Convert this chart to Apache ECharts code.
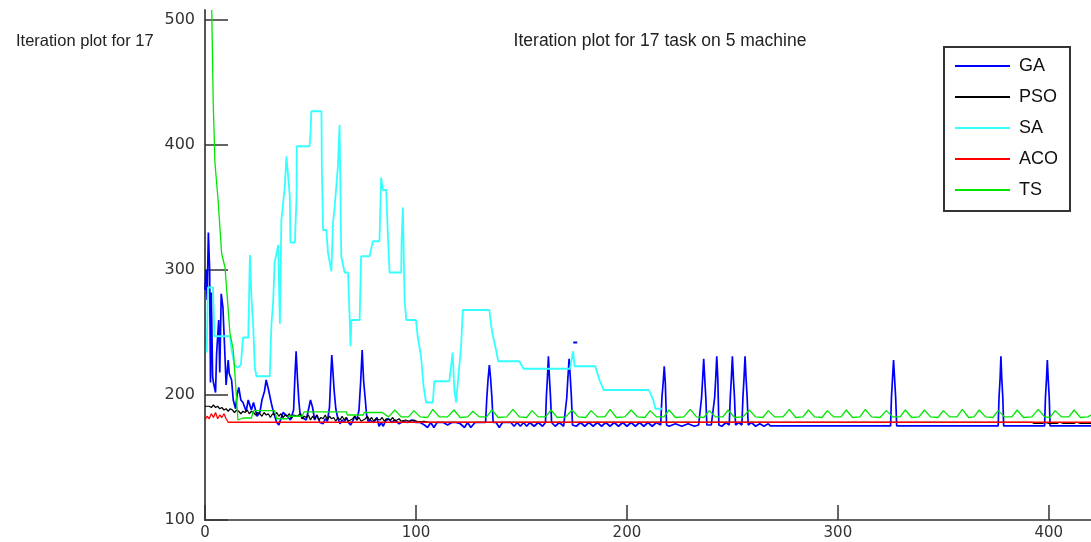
<!DOCTYPE html>
<html>
<head>
<meta charset="utf-8">
<title>Iteration plot</title>
<script src="https://cdn.jsdelivr.net/npm/echarts@6/dist/echarts.min.js"></script>
<style>
  html, body { margin: 0; padding: 0; background: #fff; }
  #chart { width: 1091px; height: 542px; }
</style>
</head>
<body>
<div id="chart"></div>
<script>
// tick labels
const xTicks = [0, 100, 200, 300, 400];
const yTicks = [100, 200, 300, 400, 500];
const seriesNames = ['GA', 'PSO', 'SA', 'ACO', 'TS'];
const titleText = 'Iteration plot for 17 task on 5 machine';

// GA (blue) - [iteration, makespan]
const gaData = [
  [0,284],[0.5,300],[1,276],[1.6,330],[2.2,300],[2.6,210],[3,282],[3.6,215],[4,210],[5,202],
  [5.5,233],[6.5,260],[7,218],[7.7,281],[8.5,270],[9.3,238],[10,208],[11,228],[11.5,217],[12.6,212],
  [13.4,196],[14.5,189],[15.2,200],[16,206],[17,196],[18,194],[19.5,187],[20.5,196],[22,188],[23,194],
  [24.7,183],[26,186],[27,196],[28.2,203],[29,212],[30,205],[31.5,193],[32.5,186],[34,178],[35,176],
  [36,181],[37,186],[39,183],[40.5,180],[42,188],[42.6,214],[43.2,235],[43.8,214],[44.5,195],[45,186],
  [46,182],[48,180],[49,188],[50,196],[51,190],[52,180],[53,184],[54.5,178],[56,177],[57,181],
  [58,179],[59,190],[59.6,214],[60.1,232],[60.6,220],[61.2,204],[62,189],[63,181],[64,177],[65,180],
  [66,178],[67,182],[68,178],[69,176],[70,179],[71,183],[72,180],[73,188],[73.8,211],[74.5,236],
  [75.2,211],[76,196],[76.6,184],[77.5,178],[78,180],[80,178],[81.5,182],[82.5,175],[83.5,178],[84.5,175],
  [85.5,179],[87,181],[88.5,178],[90,180],[92,177],[94,179],[96,178],[98,180],[100,178],[102,178],
  [104,176],[105.5,174],[107,178],[108.5,174],[110,178],[113,178],[115,176],[117,178],[119,178],[121,177],
  [123,174],[124.5,178],[126,174],[128,178],[131,178],[133,178],[133.6,198],[134.2,213],[134.8,224],[135.4,213],
  [136,198],[136.6,178],[138,178],[139.5,174],[141,178],[143,178],[145,178],[146.5,175],[148,178],[149.5,175],
  [151,178],[152.5,175],[154,178],[156,175],[158,178],[160,175],[161.4,178],[161.8,198],[162.3,213],[162.8,231],
  [163.3,213],[163.8,198],[164.3,178],[166,175],[168,178],[170,175],[171.5,198],[172,213],[172.6,229],[173.2,213],
  [173.7,198],[174.2,176],[176,175],[178,178],[180,175],[182,178],[184,175],[186,178],[188,175],[190,178],
  [192,175],[194,178],[196,175],[198,178],[200,175],[202,178],[204,175],[206,178],[208,175],[210,178],
  [212,175],[214,178],[216,176],[216.6,198],[217.2,210],[217.7,223],[218.2,210],[218.8,176],[220,175],[223,177],
  [226,175],[229,177],[232,175],[234,176],[235.4,198],[235.9,213],[236.4,229],[236.9,213],[237.4,198],[237.9,176],
  [240,176],[241.6,198],[242.1,213],[242.6,231],[243.1,213],[243.6,176],[245,175],[247,178],[248.5,176],[249,198],
  [249.5,213],[250,231],[250.5,213],[251,198],[251.5,176],[253,178],[254.5,176],[255,198],[255.5,213],[256,231],
  [256.5,213],[257,198],[257.5,176],[259,178],[261,175],[263,177],[265,175],[267,177],[268,175.3],[325,175.3],
  [325.4,198],[325.9,213],[326.4,228],[326.9,213],[327.4,198],[327.9,175.3],[376,175.3],[376.4,198],[376.9,213],[377.3,231],
  [377.7,213],[378.2,198],[378.6,175.3],[398,175.3],[398.4,198],[398.9,213],[399.3,228],[399.7,213],[400.2,198],[400.6,175.3],
  [420,175.3]
];
const gaDot = [175.5, 242];

// PSO (black)
const psoData = [
  [0,191],[2,191],[3,190],[4,192],[5,190],[6,191],[7,189],[8,190],[9,188],[10,189],
  [11,187],[12,189],[13,188],[14,186],[15,188],[16,187],[17,185],[18,187],[19,186],[20,188],
  [21,185],[22,187],[23,186],[24,184],[25,186],[26,185],[27,183],[28,186],[29,184],[30,185],
  [31,182],[32,185],[33,184],[34,186],[35,183],[36,185],[37,182],[38,184],[39,183],[40,185],
  [41,181],[42,184],[44,183],[45,185],[46,181],[47,183],[48,182],[49,184],[50,180],[51,183],
  [52,181],[53,184],[54,180],[55,182],[56,181],[57,184],[58,180],[59,183],[60,181],[61,182],
  [62,179],[63,182],[64,180],[65,183],[66,180],[67,182],[68,179],[70,181],[71,183],[72,180],
  [73,182],[74,179],[76,181],[77,183],[78,180],[79,182],[80,179],[81,181],[83,180],[84,182],
  [85,179],[86,181],[88,180],[89,182],[90,179],[92,181],[93,179],[95,180],[97,179],[99,180],
  [101,178.5],[104,179],[106,178.2],[392,178.2],[393,177.3],[397,177.3],[398,178.2],[400,177.3],[404,177.3],[405,178.2],
  [407,177.3],[412,177.3],[413,178.2],[415,177.3],[420,177.3]
];

// SA (cyan)
const saData = [
  [0.8,234],[1.4,286],[3.8,286],[4.5,247],[11.8,247],[12.6,236],[14,224],[15.5,222],[17,224],[18,246],
  [20.5,246],[21.3,312],[22,279],[22.9,254],[23.6,222],[24.4,215],[30.7,215],[31.5,257],[32.3,274],[33,306],
  [33.9,306],[34.7,320],[35.5,257],[36.2,340],[37,340],[37.8,366],[38.6,391],[39.4,391],[40.2,359],[40.5,322],
  [42.6,322],[43.4,359],[43.5,399],[49.6,399],[50.1,412],[50.4,427],[55.2,427],[55.4,380],[56,332],[57.5,332],
  [58.3,314],[59.9,299],[60.7,338],[61.5,351],[62.3,351],[63,383],[63.8,416],[64.6,311],[66.2,298],[67.8,298],
  [68.6,260],[69,239],[69.4,260],[73.3,260],[74,311],[78,311],[79.6,323],[82.7,323],[83.5,374],[84.3,364],
  [85.9,364],[86.7,327],[87.5,298],[93,298],[93.2,324],[93.8,350],[94.6,276],[95.4,260],[100,260],[100.8,247],
  [101.6,247],[102.4,231],[103.2,231],[103.6,207],[104.8,194],[108,194],[108.7,211],[115.8,211],[117.4,234],[118.2,204],
  [119,194],[119.8,194],[121.4,239],[122.2,268],[134.8,268],[135.6,256],[136.5,247],[138,236],[139,227],[149,227],
  [151,221],[173,221],[174.5,235],[175.2,223],[185,223],[187,212],[189,204],[210.4,204],[212.5,196],[213.5,189],
  [216.7,189]
];

// ACO (red)
const acoData = [
  [0,180],[1,183],[2,181],[3,185],[4,182],[5,186],[6,181],[7,184],[8,182],[9,185],
  [10,181],[11,178.2],[420,178.2]
];

// TS (green)
const tsData = [
  [3.2,508],[3.9,434],[4.7,386],[6.2,356],[7.9,313],[9.5,302],[11.8,250],[13.4,236],[15,196],[15.6,180],
  [18,181.6],[22,181.6],[23,187.5],[33,187.5],[34,181],[39,181],[39.5,183],[46,183],[47,186.5],[67,186.5],
  [67.5,184],[75,184],[75.5,186],[84,186],[87,182.5],
  [90,188],[93,182.5],[96.5,182.5],[99,187.5],[102,182.5],[105.5,182],[108,188.5],[111,182.5],[115,182.5],
  [118,188],[121,182],[124.5,182.5],[127,187],[130,182.5],[133.5,182.5],[136,188],[139,182],[143,182.5],
  [146,188.5],[149,182.5],[152.5,182],[155,187.5],[158,182.5],[161.5,182.5],[164,188],[167,182],[171,182.5],
  [174,188],[177,182.5],[180.5,182],[183,187.5],[186,182.5],[189.5,182.5],[192,188.5],[195,182],[199,182.5],
  [202,188],[205,182.5],[208.5,182],[211,187.5],[214,182.5],[217.5,182.5],[220,188],[223,182],[227,182.5],
  [230,188.5],[233,182.5],[236.5,182],[239,187.5],[242,182.5],[245.5,182.5],[248,188],[251,182],[255,182.5],
  [258,188],[261,182.5],[264.5,182],[267,187.5],[270,182.5],[274,182.5],[277,188.5],[280,182],[283.5,182.5],
  [286,188],[289,182.5],[292.5,182],[295,187.5],[298,182.5],[301.5,182.5],[304,188],[307,182],[310.5,182.5],
  [313,188.5],[316,182.5],[320,182],[323,187.5],[326,182.5],[329.5,182.5],[332,188],[335,182],[338.5,182.5],
  [341,188],[344,182.5],[347.5,182],[350,187.5],[353,182.5],[356.5,182.5],[359,188.5],[362,182],[364.5,182.5],
  [367,188],[370,182.5],[373.5,182],[376,187.5],[379,182.5],[382.5,182.5],[385,188],[388,182],[392,182.5],
  [395,188.5],[398,182.5],[400.5,182],[403,187.5],[406,182.5],[409.5,182.5],[412,188],[415,182],[418.5,182.5],
  [420,184]
];

const seriesColors = ['#0000ff', '#000000', '#33ffff', '#ff0000', '#00e600'];
const seriesData = [gaData, psoData, saData, acoData, tsData];
const lineWidths = [1.7, 1.2, 1.8, 1.3, 1.3];

const chart = echarts.init(document.getElementById('chart'), null, { renderer: 'canvas' });

const series = seriesNames.map(function (name, i) {
  const s = {
    name: name,
    type: 'line',
    data: seriesData[i],
    symbol: 'none',
    showSymbol: false,
    clip: true,
    lineStyle: { color: seriesColors[i], width: lineWidths[i] },
    itemStyle: { color: seriesColors[i] }
  };
  if (name === 'GA') {
    s.markPoint = {
      silent: true,
      symbol: 'rect',
      symbolSize: [4, 2],
      label: { show: false },
      itemStyle: { color: seriesColors[0] },
      data: [{ coord: gaDot }]
    };
  }
  return s;
});

const option = {
  animation: false,
  backgroundColor: '#ffffff',
  title: [
    {
      text: titleText,
      left: 655,
      top: 27,
      textAlign: 'center',
      textStyle: { fontFamily: 'Liberation Sans', fontSize: 17.5, fontWeight: 'normal', color: '#222' }
    },
    {
      text: titleText,
      left: 11,
      top: 28,
      textStyle: {
        fontFamily: 'Liberation Sans', fontSize: 16.5, fontWeight: 'normal', color: '#222',
        width: 142, overflow: 'truncate', ellipsis: ''
      }
    }
  ],
  legend: {
    orient: 'vertical',
    left: 944,
    top: 47,
    data: seriesNames,
    icon: 'rect',
    backgroundColor: '#fff',
    borderColor: '#333',
    borderWidth: 2,
    borderRadius: 0,
    padding: [10, 12, 12, 11],
    itemWidth: 55,
    itemHeight: 2,
    itemGap: 13,
    selectedMode: false,
    textStyle: { fontFamily: 'Liberation Sans', fontSize: 18, lineHeight: 18, color: '#111', padding: [0, 0, 0, 4] }
  },
  grid: { left: 205, top: 10, width: 888, height: 510, containLabel: false },
  xAxis: {
    type: 'value',
    min: 0,
    max: 420,
    interval: 100,
    axisLine: { show: true, onZero: false, lineStyle: { color: '#333', width: 1.5 } },
    axisTick: { show: true, inside: true, length: 15, customValues: xTicks, lineStyle: { color: '#333', width: 1.5 } },
    axisLabel: {
      customValues: xTicks,
      margin: 6,
      fontFamily: 'DejaVu Sans', fontSize: 15, color: '#333'
    },
    splitLine: { show: false }
  },
  yAxis: {
    type: 'value',
    min: 100,
    max: 508,
    interval: 100,
    axisLine: { show: true, onZero: false, lineStyle: { color: '#555', width: 2 } },
    axisTick: { show: true, inside: true, length: 23, customValues: yTicks, lineStyle: { color: '#333', width: 1.5 } },
    axisLabel: {
      customValues: yTicks,
      margin: 10,
      fontFamily: 'DejaVu Sans', fontSize: 16, color: '#333'
    },
    splitLine: { show: false }
  },
  series: series
};

chart.setOption(option);
</script>
</body>
</html>
